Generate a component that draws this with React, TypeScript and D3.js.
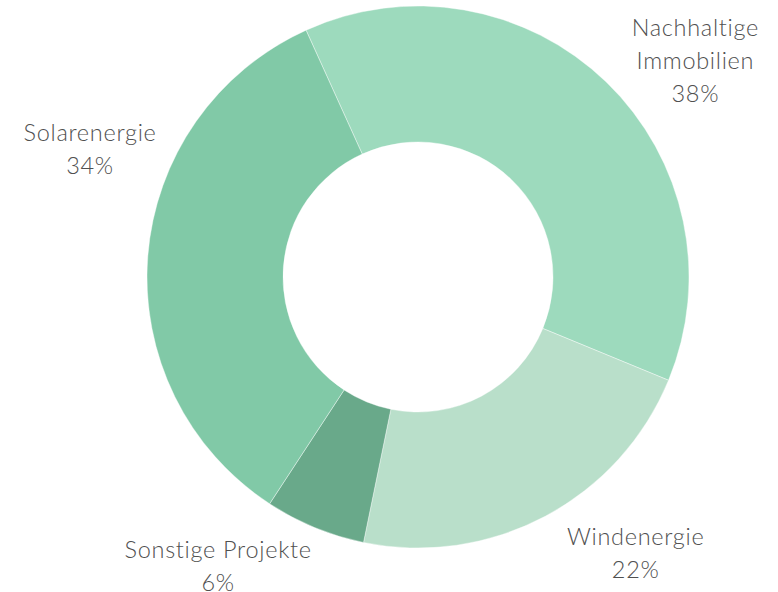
import React, { useEffect, useRef } from "react";
import * as d3 from "d3";

// shares in percent, clockwise from the top-left boundary
const categories = ["Nachhaltige Immobilien", "Windenergie", "Sonstige Projekte", "Solarenergie"];
const labelLines = [["Nachhaltige", "Immobilien"], ["Windenergie"], ["Sonstige Projekte"], ["Solarenergie"]];
const shares = [38, 22, 6, 34];
const colors = ["#9ddabd", "#b9dfca", "#69a98a", "#81c9a7"];
// where each label sits around the ring (degrees from 12 o'clock)
const labelAngles = [52, 141.8, 214.6, -68.7];

const width = 778;
const height = 592;

export default function App() {
	const ref = useRef<SVGSVGElement>(null);

	useEffect(() => {
		document.body.style.margin = "0";
		const svg = d3.select(ref.current);
		svg.selectAll("*").remove();

		const cx = 418, cy = 277;
		const outer = 271, inner = 135;
		const start = (-24.4 * Math.PI) / 180;

		const pie = d3.pie<number>().sort(null).value((d) => d)
			.startAngle(start).endAngle(start + 2 * Math.PI);
		const arc = d3.arc<d3.PieArcDatum<number>>().innerRadius(inner).outerRadius(outer);

		const g = svg.append("g").attr("transform", `translate(${cx},${cy})`);
		g.selectAll("path")
			.data(pie(shares))
			.join("path")
			.attr("d", arc)
			.attr("fill", (d, i) => colors[i])
			.attr("stroke", "#ffffff")
			.attr("stroke-width", 0.4);

		const labelR = 352;
		const lineH = 33;
		categories.forEach((c, i) => {
			const a = (labelAngles[i] * Math.PI) / 180;
			const x = labelR * Math.sin(a);
			const y = -labelR * Math.cos(a);
			const lines = [...labelLines[i], shares[i] + "%"];
			const top = y - ((lines.length - 1) * lineH) / 2;
			const t = g.append("text")
				.attr("text-anchor", "middle")
				.attr("font-family", "Lato, sans-serif")
				.attr("font-weight", 300)
				.attr("font-size", 23.5)
				.attr("letter-spacing", 0.7)
				.attr("fill", "#505050");
			lines.forEach((l, j) => {
				t.append("tspan")
					.attr("x", x)
					.attr("y", top + j * lineH)
					.attr("dy", "0.35em")
					.text(l);
			});
		});
	}, []);

	return (
		<svg ref={ref} width={width} height={height} style={{ position: "absolute", left: 0, top: 0, background: "#fff" }} />
	);
}
